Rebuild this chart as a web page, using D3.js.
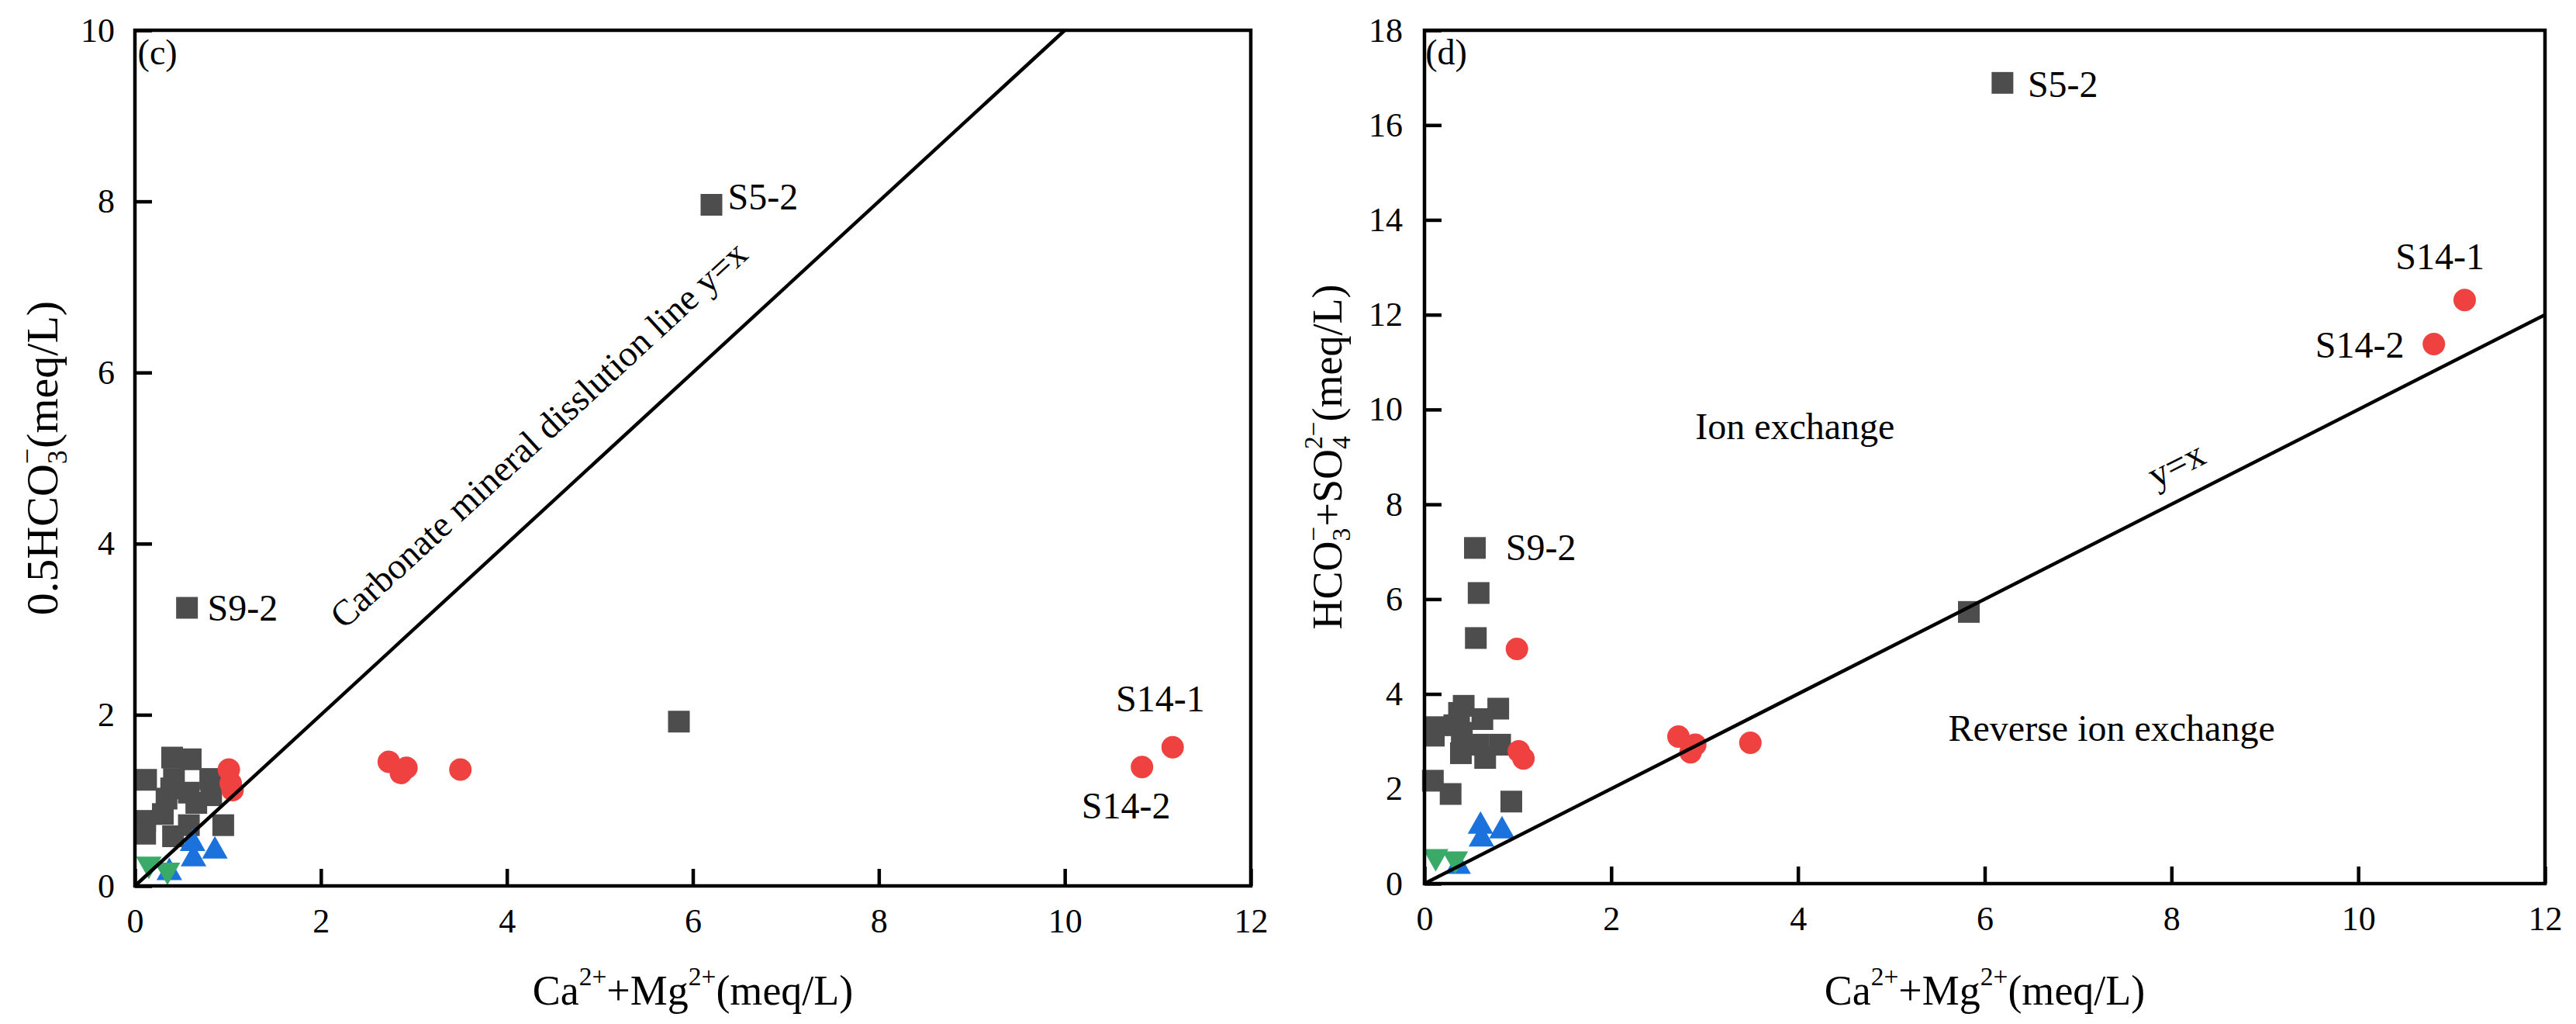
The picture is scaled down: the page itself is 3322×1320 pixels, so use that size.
<!DOCTYPE html>
<html>
<head>
<meta charset="utf-8">
<script src="https://cdn.jsdelivr.net/npm/d3@7"></script>
<style>
  body { margin: 0; background: #fff; }
  svg { display: block; }
</style>
</head>
<body>
<div id="chart"></div>
<script>
(() => {
const xTicks = [0, 2, 4, 6, 8, 10, 12];
const cYTicks = [0, 2, 4, 6, 8, 10];
const dYTicks = [0, 2, 4, 6, 8, 10, 12, 14, 16, 18];

// panel (c): 0.5HCO3- against Ca2+ + Mg2+
const cSquares = [
  [0.40, 1.50], [0.60, 1.48], [0.12, 1.24], [0.42, 1.25], [0.81, 1.25],
  [0.58, 1.09], [0.39, 1.14], [0.82, 1.06], [0.34, 1.02], [0.66, 0.97],
  [0.30, 0.84], [0.11, 0.76], [0.11, 0.61], [0.58, 0.71], [0.95, 0.71],
  [0.41, 0.58], [0.56, 3.25], [5.85, 1.92], [6.20, 7.96]
];
const cCircles = [
  [1.01, 1.36], [1.03, 1.20], [1.05, 1.12], [2.73, 1.45], [2.86, 1.32],
  [2.92, 1.38], [3.50, 1.36], [10.83, 1.39], [11.16, 1.62]
];
const cUp = [[0.62, 0.54], [0.63, 0.36], [0.86, 0.45], [0.37, 0.20]];
const cDown = [[0.15, 0.21], [0.35, 0.14]];
const cLabels = [
  ["S5-2", 6.375, 7.91], ["S9-2", 0.78, 3.10],
  ["S14-1", 10.55, 2.04], ["S14-2", 10.18, 0.79]
];

// panel (d): HCO3- + SO42- against Ca2+ + Mg2+
const dSquares = [
  [0.54, 7.08], [0.58, 6.13], [0.55, 5.18], [0.42, 3.75], [0.37, 3.60],
  [0.79, 3.69], [0.62, 3.47], [0.10, 3.30], [0.10, 3.12], [0.32, 3.34],
  [0.40, 3.18], [0.58, 2.93], [0.81, 2.93], [0.39, 2.75], [0.65, 2.65],
  [0.09, 2.17], [0.28, 1.89], [0.93, 1.73], [5.83, 5.73], [6.19, 16.89]
];
const dCircles = [
  [0.99, 4.95], [1.01, 2.79], [1.06, 2.64], [2.72, 3.10], [2.90, 2.93],
  [2.85, 2.77], [3.49, 2.97], [10.81, 11.38], [11.14, 12.31]
];
const dUp = [[0.60, 1.29], [0.61, 1.02], [0.83, 1.19], [0.36, 0.44]];
const dDown = [[0.12, 0.49], [0.33, 0.44]];
const dLabels = [
  ["S5-2", 6.46, 16.6], ["S9-2", 0.87, 6.82],
  ["S14-1", 10.40, 12.96], ["S14-2", 9.54, 11.10]
];
const dZones = [["Ion exchange", 2.90, 9.38], ["Reverse ion exchange", 5.61, 3.01]];

const colors = { square: "#4d4d4d", circle: "#f04141", up: "#1b72dd", down: "#3aaa69" };
const FONT = "'Liberation Serif', 'Times New Roman', serif";
const F_TICK = 44, F_LAB = 48, F_TITLE = 54;
const STROKE = 4.5;

const width = 3322, height = 1320;

const svg = d3.select("#chart").append("svg")
  .attr("width", width)
  .attr("height", height)
  .style("font-family", FONT);

// text with stacked sub / superscripts, parts: string or [sub, sup]
function richText(sel, parts, F) {
  const f = F * 0.62, down = 0.2 * F, up = 0.46 * F;
  let level = 0;
  parts.forEach(p => {
    if (typeof p === "string") {
      sel.append("tspan").attr("font-size", F).attr("dy", -level).text(p);
      level = 0;
    } else {
      const [sub, sup] = p;
      let back = 0;
      if (sub) {
        const t = sel.append("tspan").attr("font-size", f).attr("dy", down - level).text(sub);
        back = t.node().getComputedTextLength();
        level = down;
      }
      if (sup) {
        sel.append("tspan").attr("font-size", f).attr("dx", -back).attr("dy", -up - level).text(sup);
        level = -up;
      }
    }
  });
}

function trianglePath(up) {
  const s = 33, h = 29;
  return up
    ? `M0,${-h / 2}L${s / 2},${h / 2}L${-s / 2},${h / 2}Z`
    : `M0,${h / 2}L${s / 2},${-h / 2}L${-s / 2},${-h / 2}Z`;
}

function drawPanel(cfg) {
  const { x, y } = cfg;
  const g = svg.append("g");
  const [x0, x1] = x.range();
  const [y0, y1] = y.range();

  // ticks (inward) and labels
  const ax = g.append("g")
    .attr("transform", `translate(0,${y0})`)
    .call(d3.axisBottom(x).tickValues(xTicks).tickSizeInner(-22).tickSizeOuter(0).tickPadding(29));
  const ay = g.append("g")
    .attr("transform", `translate(${x0},0)`)
    .call(d3.axisLeft(y).tickValues(cfg.yTicks).tickSizeInner(-22).tickSizeOuter(0).tickPadding(cfg.yPad));
  [ax, ay].forEach(a => {
    a.attr("font-family", FONT).attr("font-size", F_TICK);
    a.select(".domain").remove();
    a.selectAll("line").attr("stroke", "#000").attr("stroke-width", STROKE);
    a.selectAll("text").attr("fill", "#000");
  });

  // markers
  g.selectAll(".sq").data(cfg.squares).enter().append("rect")
    .attr("x", d => x(d[0]) - 14).attr("y", d => y(d[1]) - 14)
    .attr("width", 28).attr("height", 28)
    .attr("fill", colors.square);
  g.selectAll(".ci").data(cfg.circles).enter().append("circle")
    .attr("cx", d => x(d[0])).attr("cy", d => y(d[1])).attr("r", 14.5)
    .attr("fill", colors.circle);
  g.selectAll(".up").data(cfg.up).enter().append("path")
    .attr("transform", d => `translate(${x(d[0])},${y(d[1])})`)
    .attr("d", trianglePath(true))
    .attr("fill", colors.up);
  g.selectAll(".dn").data(cfg.down).enter().append("path")
    .attr("transform", d => `translate(${x(d[0])},${y(d[1])})`)
    .attr("d", trianglePath(false))
    .attr("fill", colors.down);

  // y = x line
  const lim = Math.min(x.domain()[1], y.domain()[1]);
  g.append("line")
    .attr("x1", x(0)).attr("y1", y(0))
    .attr("x2", x(lim)).attr("y2", y(lim))
    .attr("stroke", "#000").attr("stroke-width", STROKE);

  const angle = Math.atan2(y(0) - y(1), x(1) - x(0)) * 180 / Math.PI;
  g.append("text")
    .attr("transform", `translate(${x(cfg.lineNote[1])},${y(cfg.lineNote[2])}) rotate(${-angle})`)
    .attr("text-anchor", "middle")
    .attr("font-size", cfg.lineNoteSize)
    .text(cfg.lineNote[0]);

  // sample labels
  g.selectAll(".lab").data(cfg.labels).enter().append("text")
    .attr("x", d => x(d[1])).attr("y", d => y(d[2]))
    .attr("font-size", F_LAB)
    .text(d => d[0]);

  (cfg.zones || []).forEach(z => {
    g.append("text").attr("x", x(z[1])).attr("y", y(z[2]))
      .attr("font-size", F_LAB).text(z[0]);
  });

  g.append("text")
    .attr("x", x(cfg.letter[1])).attr("y", y(cfg.letter[2]))
    .attr("font-size", 46)
    .text(cfg.letter[0]);

  // frame
  g.append("rect")
    .attr("x", x0).attr("y", y1)
    .attr("width", x1 - x0).attr("height", y0 - y1)
    .attr("fill", "none").attr("stroke", "#000").attr("stroke-width", STROKE);

  // axis titles
  const xt = g.append("text")
    .attr("x", (x0 + x1) / 2).attr("y", 1295)
    .attr("text-anchor", "middle");
  richText(xt, ["Ca", [null, "2+"], "+Mg", [null, "2+"], "(meq/L)"], F_TITLE);

  const yt = g.append("text")
    .attr("transform", `translate(${cfg.yTitleX},${(y0 + y1) / 2}) rotate(-90)`)
    .attr("text-anchor", "middle");
  richText(yt, cfg.yTitle, cfg.yTitleSize);
}

drawPanel({
  x: d3.scaleLinear().domain([0, 12]).range([174, 1613]),
  y: d3.scaleLinear().domain([0, 10]).range([1142, 39]),
  yTicks: cYTicks, yPad: 26,
  squares: cSquares, circles: cCircles, up: cUp, down: cDown,
  labels: cLabels,
  lineNote: ["Carbonate mineral disslution line y=x", 4.43, 5.17],
  lineNoteSize: 47,
  letter: ["(c)", 0.03, 9.6],
  yTitle: ["0.5HCO", ["3", "\u2212"], "(meq/L)"],
  yTitleSize: 58,
  yTitleX: 74
});

drawPanel({
  x: d3.scaleLinear().domain([0, 12]).range([1837, 3282]),
  y: d3.scaleLinear().domain([0, 18]).range([1139, 39]),
  yTicks: dYTicks, yPad: 28,
  squares: dSquares, circles: dCircles, up: dUp, down: dDown,
  labels: dLabels, zones: dZones,
  lineNote: ["y=x", 8.11, 8.61],
  lineNoteSize: 48,
  letter: ["(d)", 0.01, 17.28],
  yTitle: ["HCO", ["3", "\u2212"], "+SO", ["4", "2\u2212"], "(meq/L)"],
  yTitleSize: 54,
  yTitleX: 1730
});
})();
</script>
</body>
</html>
